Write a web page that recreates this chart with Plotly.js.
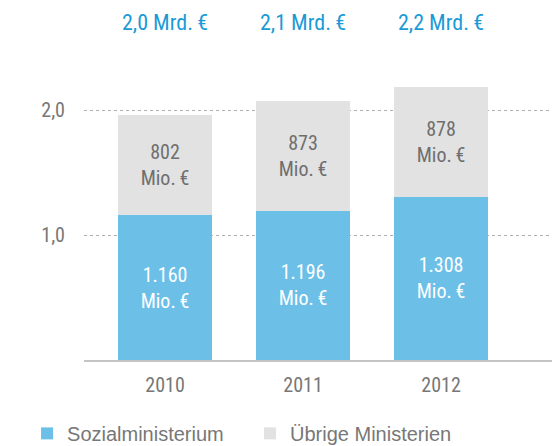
<!DOCTYPE html>
<html>
<head>
<meta charset="utf-8">
<script src="https://cdn.plot.ly/plotly-3.0.1.min.js"></script>
<style>html,body{margin:0;padding:0;background:#fff;}#chart{width:552px;height:446px;}</style>
</head>
<body>
<div id="chart"></div>
<script>
// Data (Mio. €)
const years = ['2010', '2011', '2012'];
const sozialMio = [1160, 1196, 1308];
const uebrigeMio = [802, 873, 878];
const seriesNames = ['Sozialministerium', 'Übrige Ministerien'];
const yTickVals = [1, 2];
const yTickText = ['1,0', '2,0'];

const FONT = 'Roboto Condensed, Liberation Sans Narrow, Arial Narrow, Roboto, sans-serif';
const LEGFONT = 'Liberation Sans, Arial, sans-serif';
const fmtMio = v => v.toLocaleString('de-DE') + '<br>Mio.\u2009€';
const totalsMrd = years.map((_, i) => (sozialMio[i] + uebrigeMio[i]) / 1000);

const traces = [
  {
    type: 'bar', name: seriesNames[0], x: years, y: sozialMio.map(v => v / 1000),
    marker: {color: '#6cc0e8'},
    text: sozialMio.map(fmtMio), textposition: 'inside', insidetextanchor: 'middle',
    textfont: {family: FONT, size: 20, color: '#ffffff'},
    hoverinfo: 'skip'
  },
  {
    type: 'bar', name: seriesNames[1], x: years, y: uebrigeMio.map(v => v / 1000),
    marker: {color: '#e2e2e2'},
    text: uebrigeMio.map(fmtMio), textposition: 'inside', insidetextanchor: 'middle',
    textfont: {family: FONT, size: 20, color: '#6f6f6f'},
    hoverinfo: 'skip'
  }
];

const annotations = years.map((yr, i) => ({
  x: i, xref: 'x', y: 1.056, yref: 'paper', yanchor: 'middle', xanchor: 'center',
  text: totalsMrd[i].toFixed(1).replace('.', ',') + ' Mrd.\u2009€',
  showarrow: false, font: {family: FONT, size: 22, color: '#1a9ad6'}
}));

const layout = {
  width: 552, height: 446,
  margin: {l: 84, r: 0, t: 40, b: 86, autoexpand: false},
  paper_bgcolor: '#ffffff', plot_bgcolor: '#ffffff',
  barmode: 'stack', bargap: 0.325,
  font: {family: FONT, color: '#777777', size: 20},
  xaxis: {
    type: 'category', range: [-0.587, 2.804],
    showgrid: false, showline: true, linecolor: '#c4c4c4', linewidth: 2,
    ticks: '', ticklabelstandoff: 6,
    tickfont: {family: FONT, size: 20, color: '#777777'}
  },
  yaxis: {
    range: [0, 2.56], tickvals: yTickVals, ticktext: yTickText,
    showgrid: true, gridcolor: '#b0b0b0', griddash: 'dot', gridwidth: 1,
    zeroline: false, showline: false, ticks: '', ticklabelstandoff: 18,
    tickfont: {family: FONT, size: 20, color: '#777777'}
  },
  showlegend: true,
  legend: {
    orientation: 'h', xref: 'container', yref: 'container',
    x: 0.049, xanchor: 'left', y: 0.072, yanchor: 'top',
    traceorder: 'normal', entrywidth: 178, entrywidthmode: 'pixels',
    font: {family: LEGFONT, size: 20, color: '#777777'}, itemwidth: 30
  },
  annotations: annotations
};

Plotly.newPlot('chart', traces, layout, {displayModeBar: false, staticPlot: true});
</script>
</body>
</html>
